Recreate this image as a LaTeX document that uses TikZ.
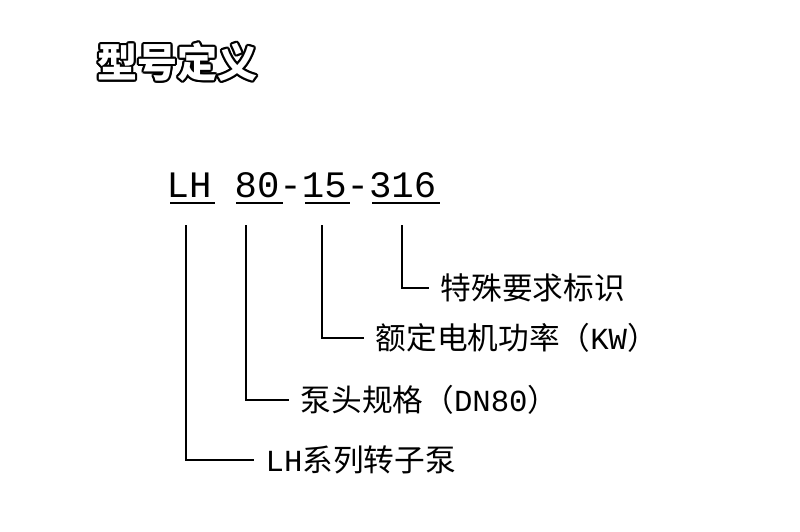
\documentclass[tikz,border=0pt]{standalone}
\usepackage{fontspec}
\usetikzlibrary{calc}
\newfontfamily\cjk{Noto Sans CJK SC}
\newfontfamily\cjkblack{Noto Sans CJK SC Black}
\newfontfamily\codefont{Liberation Mono}
\begin{document}
\begin{tikzpicture}[x=0.75pt, y=-0.75pt, line width=1pt]
        \tikzset{lbl/.style={anchor=west, inner sep=0pt, font=\cjk\fontsize{23}{25}\selectfont},
                 code/.style={anchor=base west, inner sep=0pt, font=\codefont\fontsize{28}{30}\selectfont},
                 titletext/.style={anchor=west, inner sep=0pt, font=\cjkblack\fontsize{30}{32}\selectfont}}
        \useasboundingbox (0,0) rectangle (800,532);
        % the title, outlined
        \foreach \a in {0,30,...,330}
        \node[titletext] at ($(97,62)+(\a:2.2)$) {型号定义};
        \node[titletext, text=white] (title) at (97,62) {型号定义};

        % the model code
        \node[code] (lh) at (166,197) {LH};
        \node[code] (dn) at (234,197) {80-15-316};
        \draw (170,203) -- (215,203);
        \draw (236,203) -- (283,203);
        \draw (305,203) -- (350,203);
        \draw (372,203) -- (440,203);

        % the labels
        \node[lbl] (special) at (440,288) {特殊要求标识};
        \node[lbl] (power) at (375,338) {额定电机功率（{\codefont KW}）};
        \node[lbl] (head) at (300,400) {泵头规格（{\codefont DN80}）};
        \node[lbl] (series) at (265,460) {{\codefont LH}系列转子泵};

        % the leader lines
        \draw (402,225) |- ([xshift=-8pt]special.west);
        \draw (322,225) |- ([xshift=-8pt]power.west);
        \draw (246,225) |- ([xshift=-8pt]head.west);
        \draw (186,225) |- ([xshift=-8pt]series.west);
\end{tikzpicture}
\end{document}
